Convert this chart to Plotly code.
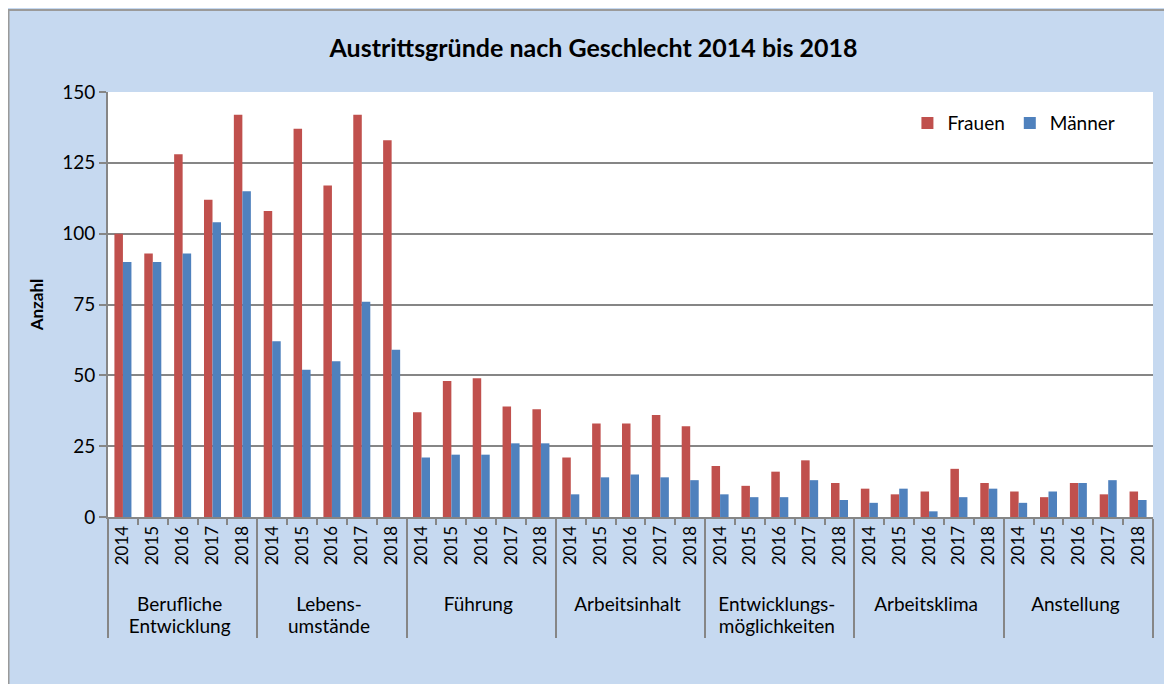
import plotly.graph_objects as go

categories = [
    'Berufliche<br>Entwicklung',
    'Lebens-<br>umstände',
    'Führung',
    'Arbeitsinhalt',
    'Entwicklungs-<br>möglichkeiten',
    'Arbeitsklima',
    'Anstellung',
]
years = ['2014', '2015', '2016', '2017', '2018']

# values per category, 2014..2018
frauen = [
    100, 93, 128, 112, 142,
    108, 137, 117, 142, 133,
    37, 48, 49, 39, 38,
    21, 33, 33, 36, 32,
    18, 11, 16, 20, 12,
    10, 8, 9, 17, 12,
    9, 7, 12, 8, 9,
]
maenner = [
    90, 90, 93, 104, 115,
    62, 52, 55, 76, 59,
    21, 22, 22, 26, 26,
    8, 14, 15, 14, 13,
    8, 7, 7, 13, 6,
    5, 10, 2, 7, 10,
    5, 9, 12, 13, 6,
]

# outer labels a bit larger than the year labels
cat_labels = [
    '<br>'.join('<span style="font-size:19px">%s</span>' % part for part in c.split('<br>'))
    for c in categories
]
# leading no-break spaces push the category row a little further down
year_labels = ['\u00a0\u00a0\u00a0' + y for y in years]
x_outer = [c for c in cat_labels for _ in years]
x_inner = [y for _ in categories for y in year_labels]

font_family = 'Lato, Open Sans, sans-serif'
grey = '#868686'

fig = go.Figure()
fig.add_trace(go.Bar(
    x=[x_outer, x_inner], y=frauen, name='Frauen',
    marker=dict(color='#C0504D', line=dict(width=0)),
))
fig.add_trace(go.Bar(
    x=[x_outer, x_inner], y=maenner, name='Männer',
    marker=dict(color='#4F81BD', line=dict(width=0)),
))

# page body has an 8px margin, so the figure is a bit smaller than the window
fig.update_layout(
    width=1164, height=676,
    margin=dict(l=100, r=19, t=84, b=167),
    paper_bgcolor='#C6D9F0',
    plot_bgcolor='white',
    barmode='group',
    bargap=0.43,
    bargroupgap=0,
    font=dict(family=font_family, size=17, color='black'),
    title=dict(
        text='<b>Austrittsgründe nach Geschlecht 2014 bis 2018</b>',
        x=0.503, xanchor='center', y=0.941, yanchor='middle',
        font=dict(size=25),
    ),
    legend=dict(
        orientation='h', x=0.765, y=0.927, xanchor='left', yanchor='middle',
        bgcolor='rgba(0,0,0,0)', font=dict(size=19),
        itemwidth=30,
    ),
    xaxis=dict(
        type='multicategory',
        tickangle=-90,
        tickfont=dict(size=17),
        showline=True, linecolor=grey, linewidth=2,
        ticks='outside', tickcolor=grey, tickwidth=2, ticklen=6,
        showdividers=True, dividercolor=grey, dividerwidth=2,
        showgrid=False,
    ),
    yaxis=dict(
        range=[0, 150], dtick=25,
        title=dict(text='<b>Anzahl</b>', font=dict(size=17), standoff=14),
        showline=True, linecolor=grey, linewidth=2,
        ticks='outside', tickcolor=grey, tickwidth=2, ticklen=7,
        gridcolor=grey, gridwidth=2,
        tickfont=dict(size=19),
        zeroline=False,
    ),
)

# grey frame around the chart area
fig.add_shape(
    type='rect', xref='paper', yref='paper', layer='above',
    x0=-0.0952, x1=1.05, y0=-0.5, y1=1.193,
    fillcolor='rgba(0,0,0,0)', line=dict(color='#9A9A9A', width=2),
)

fig.write_html('out.html')
